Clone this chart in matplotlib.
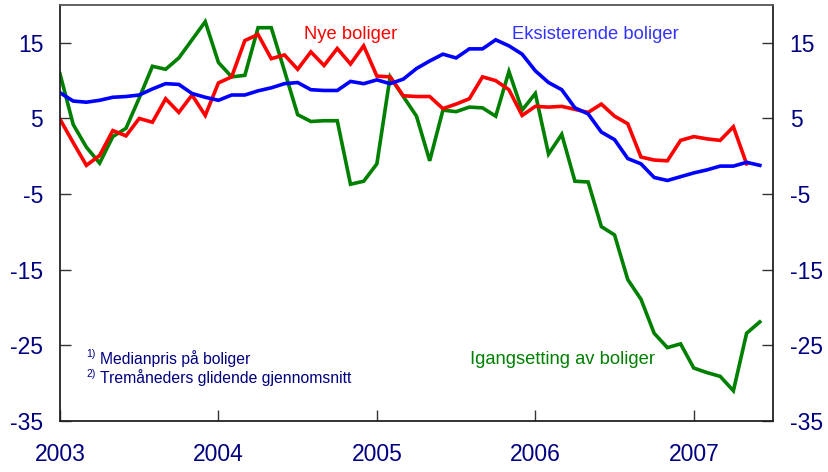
import numpy as np
import matplotlib.pyplot as plt

plt.rcParams['font.family'] = ['Liberation Sans', 'DejaVu Sans']
plt.rcParams['axes.unicode_minus'] = False

# --------
# > Data <
# --------
# monthly observations, Jan 2003 onwards
nye_boliger = [
    4.9, 1.8, -1.2, 0.1, 3.4, 2.7, 5.0, 4.5, 7.6, 5.8, 8.1, 5.4,
    9.7, 10.5, 15.3, 16.1, 12.9, 13.4, 11.5, 13.8, 12.0, 14.25, 12.2, 14.6,
    10.6, 10.5, 8.0, 7.9, 7.9, 6.3, 6.9, 7.6, 10.5, 10.0, 8.8, 5.4,
    6.6, 6.5, 6.6, 6.2, 5.8, 6.9, 5.3, 4.3, -0.1, -0.5, -0.6, 2.1,
    2.6, 2.3, 2.1, 3.9, -1.0,
]
eksisterende = [
    8.4, 7.3, 7.15, 7.4, 7.8, 7.9, 8.1, 8.9, 9.6, 9.5, 8.3, 7.8,
    7.4, 8.1, 8.1, 8.65, 9.05, 9.6, 9.75, 8.8, 8.7, 8.7, 9.9, 9.6,
    10.1, 9.6, 10.2, 11.6, 12.6, 13.5, 13.0, 14.2, 14.2, 15.4, 14.6, 13.5,
    11.3, 9.75, 8.8, 6.4, 5.6, 3.2, 2.2, -0.3, -1.0, -2.8, -3.2, -2.7,
    -2.2, -1.8, -1.3, -1.3, -0.8, -1.2,
]
igangsetting = [
    10.9, 4.2, 1.2, -0.9, 2.6, 3.7, 7.7, 11.9, 11.5, 13.0, 15.4, 17.8,
    12.4, 10.5, 10.7, 17.0, 17.0, 11.3, 5.5, 4.6, 4.7, 4.7, -3.7, -3.3,
    -1.0, 10.5, 7.9, 5.3, -0.6, 6.1, 5.9, 6.5, 6.4, 5.3, 11.2, 6.1,
    8.3, 0.3, 2.9, -3.3, -3.4, -9.3, -10.4, -16.3, -18.9, -23.4, -25.3, -24.8,
    -28.0, -28.6, -29.1, -31.0, -23.4, -21.9,
]
years = [2003, 2004, 2005, 2006, 2007]
yticks = [15, 5, -5, -15, -25, -35]

navy = '#000080'

# --------
# > Plot <
# --------
fig = plt.figure(figsize=(8.29, 4.72), dpi=100)
ax = fig.add_axes([60 / 829, 1 - 421 / 472, 713 / 829, 416 / 472])

t_red = 2003 + np.arange(len(nye_boliger)) / 12
t_blue = 2003 + np.arange(len(eksisterende)) / 12
t_green = 2003 + np.arange(len(igangsetting)) / 12

ax.plot(t_green, igangsetting, color='#008000', lw=2.6, solid_joinstyle='miter')
ax.plot(t_red, nye_boliger, color='#ff0000', lw=2.6, solid_joinstyle='miter')
ax.plot(t_blue, eksisterende, color='#0000ff', lw=2.6, solid_joinstyle='miter')

ax.set_xlim(2003, 2007.5)
ax.set_ylim(-35, 20)
ax.set_xticks(years)
ax.set_xticklabels([str(y) for y in years])
ax.set_yticks(yticks)

ax.tick_params(axis='both', direction='in', length=8, width=1,
               labelsize=16.5, labelcolor=navy, color='#333333')
ax.tick_params(axis='y', right=True, labelright=True, pad=12)
ax.tick_params(axis='x', pad=16)

for side in ['left', 'right', 'bottom']:
    ax.spines[side].set_color('#222222')
    ax.spines[side].set_linewidth(1.3)
ax.spines['top'].set_color('#555555')
ax.spines['top'].set_linewidth(1.3)

# series labels
ax.text(2004.54, 16.1, 'Nye boliger', color='#ff0000', fontsize=13.2, va='center')
ax.text(2005.85, 16.1, 'Eksisterende boliger', color='#3333ff', fontsize=13.2, va='center')
ax.text(2005.59, -26.9, 'Igangsetting av boliger', color='#008000', fontsize=13.2, va='center')

# footnotes
ax.text(2003.165, -26.2, '1)', color=navy, fontsize=7.5, va='center')
ax.text(2003.255, -26.7, 'Medianpris på boliger', color=navy, fontsize=11.3, va='center')
ax.text(2003.165, -28.8, '2)', color=navy, fontsize=7.5, va='center')
ax.text(2003.255, -29.3, 'Tremåneders glidende gjennomsnitt', color=navy, fontsize=11.3, va='center')

fig.savefig('out.png', dpi=100)
plt.close(fig)
